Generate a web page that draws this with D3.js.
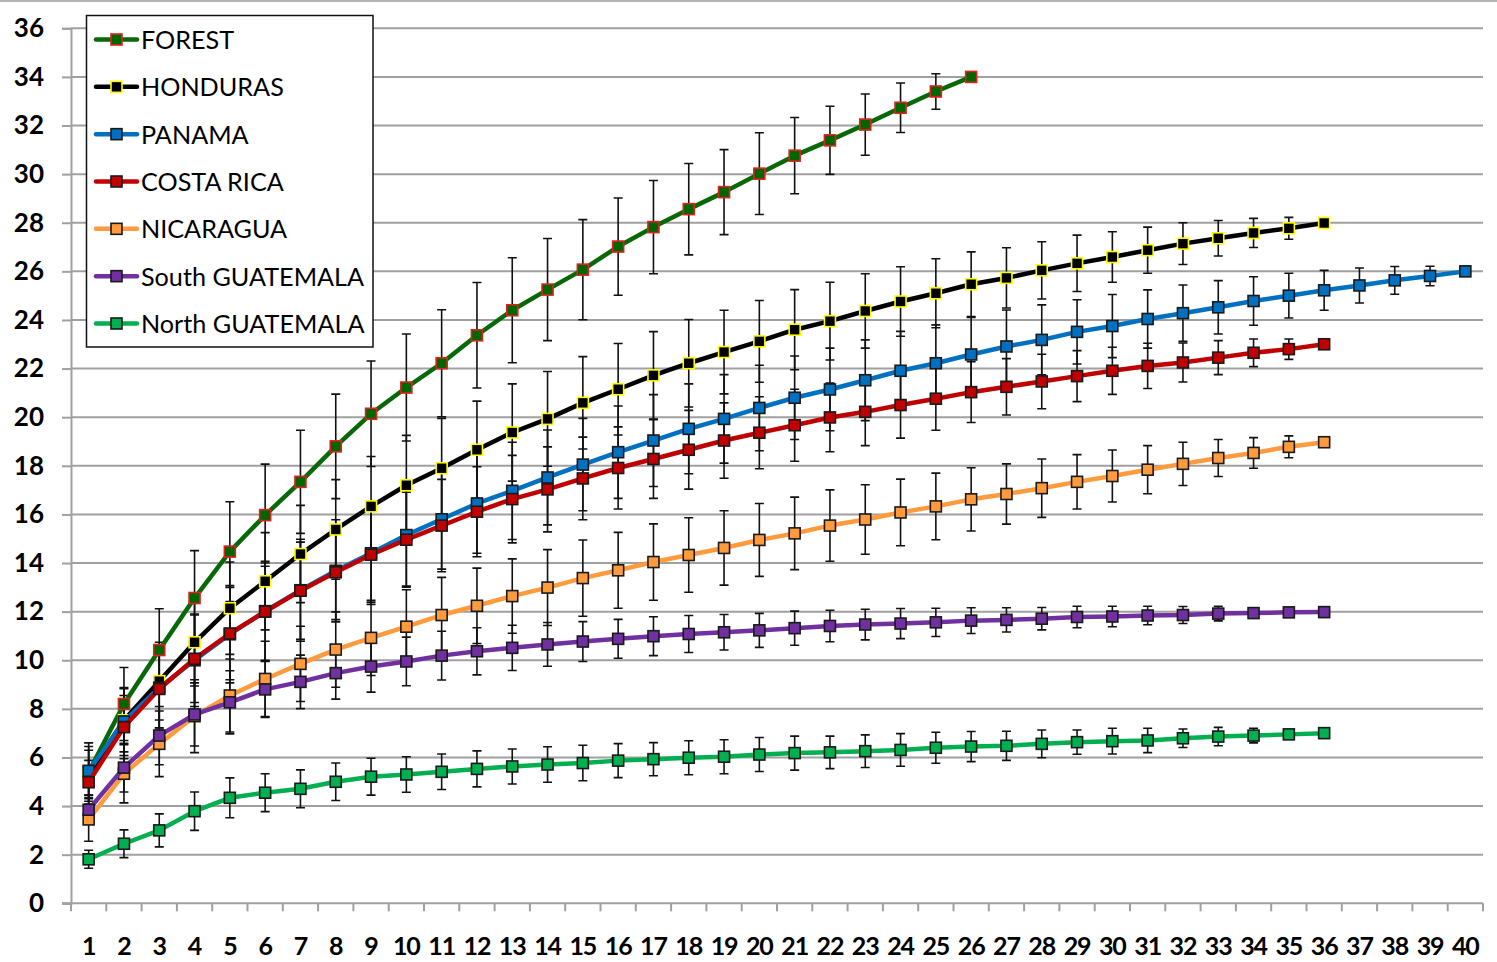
<!DOCTYPE html>
<html>
<head>
<meta charset="utf-8">
<script src="https://cdn.jsdelivr.net/npm/d3@7"></script>
<style>
  html, body { margin: 0; padding: 0; background: #fff; }
  svg { display: block; }
</style>
</head>
<body>
<svg id="chart" width="1497" height="962"></svg>
<script>
// Months along the x axis
const categories = [1,2,3,4,5,6,7,8,9,10,11,12,13,14,15,16,17,18,19,20,
                    21,22,23,24,25,26,27,28,29,30,31,32,33,34,35,36,37,38,39,40];
const yTicks = [0,2,4,6,8,10,12,14,16,18,20,22,24,26,28,30,32,34,36];

// Mean growth per site and the half-width of its error bar
const forest = [5.4, 8.2, 10.42, 12.56, 14.47, 15.97, 17.34, 18.8, 20.14, 21.22, 22.22, 23.37, 24.4, 25.25, 26.07, 27.02, 27.82, 28.56, 29.26, 30.02, 30.76, 31.39, 32.04, 32.73, 33.4, 34.0];
const forestErr = [1.2, 1.5, 1.7, 1.95, 2.05, 2.1, 2.12, 2.15, 2.17, 2.2, 2.2, 2.17, 2.16, 2.1, 2.06, 2.0, 1.92, 1.88, 1.75, 1.68, 1.57, 1.4, 1.26, 1.02, 0.73, 0];

const honduras = [5.3, 7.53, 9.14, 10.74, 12.14, 13.25, 14.37, 15.38, 16.33, 17.2, 17.9, 18.66, 19.37, 19.93, 20.59, 21.15, 21.72, 22.22, 22.68, 23.12, 23.6, 23.95, 24.37, 24.76, 25.1, 25.47, 25.73, 26.04, 26.33, 26.59, 26.87, 27.14, 27.36, 27.58, 27.77, 27.99];
const hondurasErr = [1.0, 1.3, 1.6, 1.8, 1.9, 2.0, 2.0, 2.05, 2.05, 2.05, 2.05, 2.0, 2.0, 1.95, 1.9, 1.88, 1.8, 1.8, 1.72, 1.68, 1.65, 1.6, 1.53, 1.43, 1.42, 1.33, 1.24, 1.18, 1.16, 1.04, 0.95, 0.86, 0.73, 0.6, 0.45, 0];

const panama = [5.45, 7.48, 8.87, 10.0, 11.07, 12.02, 12.88, 13.68, 14.4, 15.15, 15.8, 16.45, 16.97, 17.52, 18.05, 18.56, 19.04, 19.52, 19.93, 20.38, 20.8, 21.14, 21.52, 21.91, 22.22, 22.58, 22.91, 23.18, 23.51, 23.75, 24.04, 24.28, 24.52, 24.78, 25.0, 25.22, 25.42, 25.63, 25.81, 26.0];
const panamaErr = [1.0, 1.4, 1.7, 1.9, 2.0, 2.05, 2.1, 2.1, 2.1, 2.1, 2.05, 2.05, 2.0, 1.95, 1.9, 1.9, 1.89, 1.85, 1.82, 1.76, 1.72, 1.7, 1.66, 1.62, 1.58, 1.52, 1.5, 1.44, 1.32, 1.3, 1.2, 1.16, 1.1, 1.0, 0.92, 0.82, 0.72, 0.57, 0.4, 0];

const costaRica = [4.98, 7.25, 8.82, 10.06, 11.1, 12.0, 12.86, 13.62, 14.34, 14.96, 15.54, 16.11, 16.63, 17.03, 17.48, 17.91, 18.28, 18.66, 19.04, 19.36, 19.67, 19.99, 20.22, 20.5, 20.76, 21.03, 21.25, 21.47, 21.69, 21.91, 22.11, 22.25, 22.45, 22.65, 22.8, 23.0];
const costaRicaErr = [0.9, 1.3, 1.6, 1.8, 1.9, 2.0, 2.0, 1.95, 1.95, 1.95, 1.9, 1.85, 1.8, 1.75, 1.7, 1.69, 1.62, 1.62, 1.55, 1.48, 1.48, 1.41, 1.39, 1.36, 1.3, 1.25, 1.16, 1.12, 1.05, 0.97, 0.93, 0.8, 0.7, 0.57, 0.42, 0];

const nicaragua = [3.45, 5.33, 6.56, 7.7, 8.55, 9.23, 9.85, 10.44, 10.92, 11.38, 11.86, 12.24, 12.64, 12.99, 13.38, 13.7, 14.04, 14.33, 14.62, 14.95, 15.22, 15.54, 15.79, 16.08, 16.33, 16.62, 16.84, 17.08, 17.34, 17.58, 17.84, 18.08, 18.32, 18.53, 18.78, 18.97];
const nicaraguaErr = [0.9, 1.2, 1.35, 1.5, 1.5, 1.55, 1.55, 1.55, 1.55, 1.52, 1.55, 1.55, 1.53, 1.56, 1.57, 1.56, 1.57, 1.53, 1.53, 1.5, 1.49, 1.47, 1.43, 1.37, 1.37, 1.3, 1.24, 1.2, 1.12, 1.07, 0.99, 0.89, 0.76, 0.63, 0.45, 0];

const southGuatemala = [3.85, 5.58, 6.9, 7.77, 8.27, 8.8, 9.11, 9.47, 9.74, 9.95, 10.19, 10.37, 10.51, 10.65, 10.77, 10.88, 10.99, 11.08, 11.15, 11.23, 11.32, 11.41, 11.47, 11.51, 11.56, 11.63, 11.66, 11.71, 11.78, 11.8, 11.84, 11.86, 11.92, 11.94, 11.97, 11.98];
const southGuatemalaErr = [0.6, 1.0, 1.2, 1.3, 1.3, 1.15, 1.1, 1.07, 1.05, 1.0, 1.0, 0.97, 0.93, 0.9, 0.82, 0.8, 0.8, 0.76, 0.73, 0.7, 0.7, 0.65, 0.63, 0.62, 0.58, 0.53, 0.5, 0.46, 0.44, 0.42, 0.38, 0.35, 0.3, 0.18, 0.12, 0];

const northGuatemala = [1.81, 2.45, 3.0, 3.79, 4.34, 4.55, 4.71, 5.0, 5.21, 5.3, 5.41, 5.53, 5.63, 5.71, 5.77, 5.87, 5.93, 5.99, 6.03, 6.12, 6.18, 6.21, 6.26, 6.31, 6.4, 6.45, 6.48, 6.56, 6.63, 6.67, 6.7, 6.79, 6.86, 6.9, 6.95, 7.0];
const northGuatemalaErr = [0.37, 0.57, 0.68, 0.79, 0.82, 0.78, 0.78, 0.77, 0.76, 0.73, 0.73, 0.74, 0.72, 0.73, 0.73, 0.7, 0.68, 0.7, 0.7, 0.7, 0.7, 0.67, 0.67, 0.67, 0.64, 0.62, 0.6, 0.57, 0.5, 0.53, 0.5, 0.38, 0.38, 0.3, 0.12, 0];

const seriesNames = ["FOREST", "HONDURAS", "PANAMA", "COSTA RICA", "NICARAGUA", "South GUATEMALA", "North GUATEMALA"];
const seriesMeans = [forest, honduras, panama, costaRica, nicaragua, southGuatemala, northGuatemala];
const seriesErrs = [forestErr, hondurasErr, panamaErr, costaRicaErr, nicaraguaErr, southGuatemalaErr, northGuatemalaErr];
const lineColors = ["#086808", "#000000", "#0070c0", "#c00000", "#ff9b3d", "#7030a0", "#00b050"];
const markerFills = ["#006600", "#000000", "#0070c0", "#c00000", "#ff9b3d", "#7030a0", "#00b050"];
const markerEdges = ["#e02020", "#ffff00", "#1a1a1a", "#1a1a1a", "#1a1a1a", "#1a1a1a", "#1a1a1a"];

const series = seriesNames.map((name, i) => ({
  name,
  line: lineColors[i], fill: markerFills[i], edge: markerEdges[i],
  points: seriesMeans[i].map((v, j) => ({ cat: categories[j], v, e: seriesErrs[i][j] }))
}));

const svg = d3.select("#chart");
const plot = { left: 71, right: 1483, top: 28.3, bottom: 903.3 };

const x = d3.scaleBand().domain(categories).range([plot.left, plot.right]).padding(0);
const cx = c => x(c) + x.bandwidth() / 2;
const y = d3.scaleLinear().domain([0, 36]).range([plot.bottom, plot.top]);

const gridColor = "#a0a0a0";
const tickFont = "Lato, 'Open Sans', sans-serif";

// outer frame edge at the top
svg.append("line").attr("x1", 0).attr("x2", 1497).attr("y1", 1).attr("y2", 1)
  .attr("stroke", "#b4b4b4").attr("stroke-width", 2);

// horizontal gridlines
svg.append("g").selectAll("line").data(yTicks.filter(t => t > 0)).join("line")
  .attr("x1", plot.left).attr("x2", plot.right)
  .attr("y1", d => y(d)).attr("y2", d => y(d))
  .attr("stroke", gridColor).attr("stroke-width", 2);

// y axis
const yAxis = svg.append("g").attr("transform", `translate(${plot.left},0)`)
  .call(d3.axisLeft(y).tickValues(yTicks).tickSize(9).tickPadding(18));
yAxis.select(".domain").attr("stroke", gridColor).attr("stroke-width", 2);
yAxis.selectAll(".tick line").attr("stroke", gridColor).attr("stroke-width", 2);
yAxis.selectAll(".tick text").attr("font-family", tickFont).attr("font-weight", 700)
  .attr("font-size", 26).attr("fill", "#000");

// x axis: ticks sit between the months
const xAxisG = svg.append("g").attr("transform", `translate(0,${plot.bottom})`);
xAxisG.append("line").attr("x1", plot.left - 9).attr("x2", plot.right)
  .attr("stroke", gridColor).attr("stroke-width", 2);
const bounds = categories.map(c => x(c)).concat([x(categories[categories.length - 1]) + x.bandwidth()]);
xAxisG.selectAll("line.tk").data(bounds).join("line").attr("class", "tk")
  .attr("x1", d => d).attr("x2", d => d).attr("y1", 0).attr("y2", 8)
  .attr("stroke", gridColor).attr("stroke-width", 2);
xAxisG.selectAll("text").data(categories).join("text")
  .attr("x", d => cx(d)).attr("y", 52)
  .attr("text-anchor", "middle")
  .attr("font-family", tickFont).attr("font-weight", 700).attr("font-size", 25)
  .attr("letter-spacing", -1.1)
  .text(d => d);

// error bars
const capHalf = 4.5;
const errG = svg.append("g");
series.forEach(s => {
  const pts = s.points.filter(p => p.e > 0);
  const g = errG.append("g").attr("stroke", "#111").attr("stroke-width", 1.6).attr("fill", "none");
  g.selectAll("path").data(pts).join("path")
    .attr("d", p => {
      const px = cx(p.cat), t = y(p.v + p.e), b = y(p.v - p.e);
      return `M${px},${t}V${b}M${px - capHalf},${t}H${px + capHalf}M${px - capHalf},${b}H${px + capHalf}`;
    });
});

// series lines and square markers
const line = d3.line().x(p => cx(p.cat)).y(p => y(p.v));
const mk = 11;
series.forEach(s => {
  svg.append("path").datum(s.points)
    .attr("d", line).attr("fill", "none")
    .attr("stroke", s.line).attr("stroke-width", 4.5).attr("stroke-linejoin", "round");
  svg.append("g").selectAll("rect").data(s.points).join("rect")
    .attr("x", p => cx(p.cat) - mk / 2).attr("y", p => y(p.v) - mk / 2)
    .attr("width", mk).attr("height", mk)
    .attr("fill", s.fill).attr("stroke", s.edge).attr("stroke-width", 1.6);
});

// legend
const legend = svg.append("g");
legend.append("rect").attr("x", 86.5).attr("y", 15.5).attr("width", 286.5).attr("height", 331.5)
  .attr("fill", "#fff").attr("stroke", "#111").attr("stroke-width", 1.5);
const rowY = d3.scaleLinear().domain([0, seriesNames.length - 1]).range([39.5, 323.5]);
series.forEach((s, i) => {
  const ry = rowY(i);
  legend.append("line").attr("x1", 96).attr("x2", 137).attr("y1", ry).attr("y2", ry)
    .attr("stroke", s.line).attr("stroke-width", 4.5).attr("stroke-linecap", "round");
  legend.append("rect").attr("x", 116.5 - mk / 2).attr("y", ry - mk / 2)
    .attr("width", mk).attr("height", mk)
    .attr("fill", s.fill).attr("stroke", s.edge).attr("stroke-width", 1.6);
  legend.append("text").attr("x", 141).attr("y", ry + 9.5)
    .attr("font-family", tickFont).attr("font-size", 25.2).attr("fill", "#000")
    .text(s.name);
});
</script>
</body>
</html>
